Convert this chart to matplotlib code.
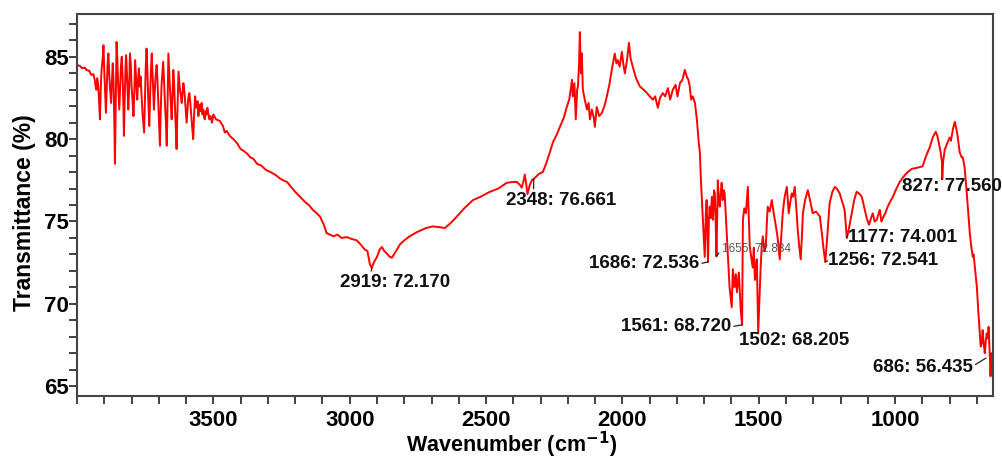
#!/usr/bin/env python3

import matplotlib
matplotlib.use('Agg')
import matplotlib.pyplot as plt
from matplotlib.ticker import MultipleLocator

plt.rcParams['font.family'] = ['Liberation Sans', 'DejaVu Sans']
plt.rcParams['font.weight'] = 'bold'

# FTIR spectrum: (wavenumber cm-1, transmittance %)
spectrum = [
    (4000, 84.5), (3990, 84.45), (3980, 84.3), (3972, 84.35), (3965, 84.2), (3955, 84.15),
    (3948, 83.9), (3940, 83.95),
    (3935, 83.6), (3932, 83.2), (3929, 83.0), (3926, 83.7), (3923, 83.4), (3920, 82.6),
    (3916, 81.2), (3913, 83.1), (3910, 84.2), (3906, 84.9), (3903, 85.7), (3900, 84.1),
    (3897, 82.8), (3894, 81.6), (3891, 83.2), (3888, 84.6), (3885, 85.2), (3882, 84.0),
    (3879, 83.1), (3875, 82.2), (3872, 83.5), (3869, 84.6), (3866, 83.4), (3863, 80.8),
    (3861, 78.5), (3858, 82.4), (3855, 85.9), (3852, 84.8), (3849, 83.2), (3845, 81.8),
    (3842, 83.1), (3839, 84.4), (3836, 85.0), (3833, 83.9), (3830, 82.0), (3828, 80.2),
    (3825, 82.6), (3822, 84.5), (3820, 85.1), (3817, 84.0), (3814, 82.6), (3812, 81.8),
    (3809, 83.0), (3806, 85.2), (3803, 84.6), (3800, 83.2), (3797, 82.5), (3793, 81.4),
    (3790, 82.8), (3787, 84.8), (3784, 83.9), (3781, 82.8), (3779, 82.4), (3776, 83.6),
    (3773, 84.3), (3770, 83.2), (3767, 83.8), (3764, 82.9), (3760, 81.6), (3757, 81.0),
    (3754, 80.4), (3751, 82.5), (3748, 84.4), (3745, 85.5), (3742, 84.2), (3739, 82.5),
    (3735, 80.8), (3732, 82.6), (3729, 84.1), (3726, 85.2), (3723, 84.0), (3720, 82.7),
    (3718, 81.8), (3715, 82.9), (3712, 83.8), (3708, 84.5), (3705, 83.6), (3702, 82.2),
    (3699, 80.9), (3696, 79.6), (3693, 81.8), (3690, 83.3), (3687, 84.0), (3684, 84.7),
    (3681, 83.5), (3678, 82.4), (3674, 81.0), (3671, 79.6), (3668, 82.1), (3665, 85.2),
    (3662, 84.1), (3659, 83.0), (3656, 82.2), (3653, 81.2), (3650, 82.6), (3647, 84.2),
    (3644, 83.4), (3641, 82.0), (3638, 80.8), (3635, 79.4), (3632, 81.6), (3628, 84.1),
    (3625, 83.5), (3622, 82.9), (3619, 82.6), (3616, 82.2), (3613, 82.9), (3610, 83.4),
    (3608, 83.2), (3605, 82.6), (3602, 81.9), (3598, 81.0), (3595, 81.8), (3592, 82.5),
    (3588, 82.8), (3585, 82.3), (3581, 81.4), (3578, 80.8), (3574, 80.0), (3571, 81.3),
    (3567, 82.6), (3564, 82.1), (3561, 81.9), (3558, 82.3), (3555, 81.4), (3552, 81.9),
    (3549, 82.1), (3546, 81.7), (3543, 82.2), (3540, 81.5), (3537, 81.8), (3534, 81.3),
    (3531, 81.2), (3528, 81.7), (3525, 81.5), (3522, 81.9), (3519, 81.6), (3515, 81.2),
    (3510, 81.4), (3505, 81.0), (3500, 81.5),
    (3490, 81.2), (3476, 81.1), (3465, 80.8), (3458, 80.4), (3451, 80.5), (3440, 80.2),
    (3427, 80.0), (3415, 79.8), (3400, 79.4), (3390, 79.3), (3375, 79.1), (3365, 78.9),
    (3353, 78.8), (3340, 78.5), (3325, 78.4), (3305, 78.1), (3290, 78.0), (3270, 77.8),
    (3255, 77.6), (3244, 77.5), (3230, 77.4), (3215, 77.1), (3200, 76.8), (3182, 76.5),
    (3165, 76.2), (3150, 76.0), (3135, 75.7), (3121, 75.5), (3109, 75.3), (3095, 74.8),
    (3085, 74.3), (3073, 74.2), (3060, 74.1), (3045, 74.2), (3030, 74.0), (3011, 74.05),
    (2995, 73.95), (2974, 73.85), (2960, 73.6), (2945, 73.3), (2935, 73.2), (2926, 72.4),
    (2919, 72.17), (2912, 72.5), (2900, 72.85), (2890, 73.3), (2882, 73.45), (2873, 73.2),
    (2864, 73.05), (2853, 72.85), (2845, 72.8), (2830, 73.2), (2816, 73.6), (2800, 73.85),
    (2780, 74.1), (2754, 74.35), (2720, 74.6), (2695, 74.7), (2670, 74.65), (2651, 74.6),
    (2630, 74.9), (2607, 75.3), (2580, 75.8), (2548, 76.3), (2520, 76.5), (2486, 76.8),
    (2455, 77.0), (2424, 77.35), (2400, 77.4), (2387, 77.4), (2375, 77.2), (2369, 77.05),
    (2362, 77.5), (2358, 77.85), (2353, 77.3), (2348, 76.66), (2340, 77.2), (2332, 77.5),
    (2321, 77.65), (2305, 77.9), (2292, 78.0), (2280, 78.5), (2266, 79.2), (2255, 79.8),
    (2240, 80.3), (2229, 80.75), (2215, 81.3), (2204, 81.95), (2195, 82.4), (2188, 83.2),
    (2185, 83.6), (2182, 82.6), (2176, 83.4), (2171, 81.2), (2166, 83.0), (2163, 83.2),
    (2159, 84.5), (2156, 86.5), (2152, 84.0), (2149, 85.2), (2145, 83.0), (2138, 82.4),
    (2130, 81.8), (2124, 82.2), (2119, 81.2), (2112, 81.8), (2105, 81.3), (2101, 80.75),
    (2094, 81.95), (2085, 81.4), (2075, 81.6), (2066, 82.0), (2057, 82.6), (2048, 83.3),
    (2039, 84.2), (2028, 85.2), (2022, 84.6), (2017, 84.8), (2010, 84.4), (2002, 85.3),
    (1996, 84.5), (1991, 84.0), (1983, 84.8), (1976, 85.85), (1970, 84.9), (1962, 84.4),
    (1950, 83.7), (1936, 83.2), (1922, 83.0), (1910, 82.8), (1900, 82.6), (1888, 82.4),
    (1880, 82.6), (1870, 81.9), (1862, 82.5), (1852, 82.8), (1843, 82.6), (1833, 83.1),
    (1825, 82.4), (1815, 83.0), (1805, 83.3), (1798, 82.6), (1789, 83.4), (1780, 83.6),
    (1771, 84.2), (1764, 83.8), (1758, 83.6), (1753, 83.2), (1748, 82.4), (1742, 82.6),
    (1734, 82.2), (1727, 81.2), (1720, 79.8), (1716, 79.2), (1712, 77.5), (1707, 75.8),
    (1702, 74.2), (1698, 72.85), (1694, 75.5), (1691, 76.3), (1686, 72.54), (1683, 75.0),
    (1680, 75.9), (1676, 75.2), (1672, 76.5), (1668, 75.1), (1664, 76.9), (1661, 76.7),
    (1658, 75.0), (1655, 72.88), (1652, 75.8), (1650, 77.5), (1646, 76.2), (1643, 75.9),
    (1638, 77.0), (1636, 77.35), (1632, 76.3), (1628, 76.9), (1625, 76.7), (1619, 74.8),
    (1614, 73.1), (1607, 71.0), (1599, 69.8), (1595, 72.1), (1589, 71.0), (1584, 71.8),
    (1580, 70.7), (1573, 71.9), (1566, 69.6), (1561, 68.72), (1558, 75.1), (1553, 75.8),
    (1547, 75.5), (1540, 77.1), (1536, 75.0), (1533, 73.5), (1527, 72.8), (1522, 72.2),
    (1518, 73.4), (1514, 71.45), (1510, 72.0), (1507, 72.7), (1502, 68.2), (1497, 70.5),
    (1493, 72.2), (1489, 73.5), (1485, 74.1), (1479, 73.2), (1474, 73.5), (1470, 75.0),
    (1467, 75.9), (1460, 75.6), (1452, 76.3), (1446, 75.6), (1441, 75.1), (1435, 74.5),
    (1430, 73.9), (1423, 72.7), (1418, 74.0), (1412, 75.5), (1405, 76.5), (1397, 77.1),
    (1393, 76.2), (1390, 75.5), (1384, 76.2), (1379, 76.7), (1374, 76.5), (1368, 77.1),
    (1362, 75.8), (1357, 74.5), (1351, 73.4), (1346, 72.7), (1342, 74.0), (1338, 75.5),
    (1330, 76.3), (1320, 76.9), (1312, 76.3), (1302, 75.5), (1290, 75.6), (1276, 75.3),
    (1268, 74.2), (1262, 73.3), (1256, 72.54), (1250, 73.8), (1240, 76.1), (1230, 76.8),
    (1221, 77.1), (1214, 77.0), (1203, 76.7), (1194, 76.2), (1185, 75.7), (1177, 74.0),
    (1170, 74.5), (1159, 75.5), (1150, 76.3), (1141, 76.8), (1132, 76.7), (1122, 76.5),
    (1111, 75.7), (1104, 75.2), (1096, 74.8), (1088, 75.2), (1082, 75.5), (1075, 75.0),
    (1067, 75.1), (1060, 75.5), (1056, 75.7), (1050, 75.0), (1045, 75.2), (1036, 75.5),
    (1027, 75.9), (1018, 76.2), (1008, 76.5), (995, 77.0), (983, 77.4), (970, 77.7),
    (954, 78.0), (938, 78.2), (921, 78.25), (910, 78.3), (899, 78.35), (888, 78.9),
    (873, 79.5), (862, 80.1), (851, 80.45), (845, 80.2), (840, 79.8), (833, 79.2),
    (828, 78.6), (827, 77.56), (824, 78.6), (818, 79.35), (810, 79.7), (800, 80.1),
    (795, 79.9), (788, 80.6), (781, 81.05), (775, 80.6), (770, 80.1), (763, 79.2),
    (756, 78.9), (752, 78.9), (745, 78.3), (737, 76.7), (730, 75.2), (726, 74.3),
    (720, 73.4), (715, 72.85), (712, 73.0), (706, 72.0), (700, 71.0), (695, 69.6),
    (690, 68.4), (686, 67.4), (682, 67.6), (679, 68.4), (675, 67.6), (671, 67.0),
    (667, 67.8), (664, 68.2), (660, 67.9), (657, 68.6), (653, 67.0), (650, 65.6),
    (646, 67.0), (642, 66.6),
]
wavenumber = [p[0] for p in spectrum]
transmittance = [p[1] for p in spectrum]

# peak labels: text, point the leader goes to, where the text starts (left, middle)
peak_labels = ["2919: 72.170", "2348: 76.661", "1686: 72.536", "1655: 72.884",
               "1561: 68.720", "1502: 68.205", "1256: 72.541", "1177: 74.001",
               "827: 77.560", "686: 56.435"]
peak_xy = [(2919, 72.17), (2325, 77.6), (1686, 72.54), (1655, 72.88),
           (1561, 68.72), (1502, 68.2), (1256, 72.54), (1177, 74.0),
           (827, 77.56), (667, 66.7)]
label_xy = [(3036, 71.3), (2427, 76.3), (2123, 72.42), (1636, 73.33),
            (2006, 68.6), (1573, 67.75), (1247, 72.61), (1174, 74.0),
            (976, 77.1), (1082, 66.1)]
# which point of the text box the leader starts from
leader_from = [(0.28, 1), (0.25, 1), (1, 0.5), (0, 0.5), (1, 0.5),
               (0.15, 1), (0, 0.5), (0, 0.7), (0.4, 1), (1, 0.6)]

fig = plt.figure(figsize=(10.03, 4.62), dpi=100)
ax = fig.add_axes([0.0768, 0.1429, 0.9132, 0.8268])

ax.plot(wavenumber, transmittance, color='#ff0000', lw=1.4)

ax.set_xlim(4000, 641)
ax.set_ylim(64.4, 87.6)
ax.xaxis.set_major_locator(MultipleLocator(500))
ax.xaxis.set_minor_locator(MultipleLocator(100))
ax.yaxis.set_major_locator(MultipleLocator(5))
ax.yaxis.set_minor_locator(MultipleLocator(1))
ax.tick_params(which='both', direction='out', length=6, width=1.3, color='#333333')
ax.tick_params(axis='x', which='major', labelsize=16, pad=4)
ax.tick_params(axis='y', which='major', labelsize=16, pad=0)
for sp in ax.spines.values():
    sp.set_linewidth(1.5)
    sp.set_color('#444444')

# no label at 4000
ax.set_xticks([3500, 3000, 2500, 2000, 1500, 1000])

ax.set_xlabel('Wavenumber (cm$^{\\mathbf{-1}}$)', fontsize=15.5, fontweight='bold')
ax.xaxis.set_label_coords(0.474, -0.088)
ax.set_ylabel('Transmittance (%)', fontsize=16.5, fontweight='bold')
ax.yaxis.set_label_coords(-0.045, 0.48)

for i, txt in enumerate(peak_labels):
    small = txt.startswith('1655')
    ax.annotate(txt, xy=peak_xy[i], xytext=label_xy[i], textcoords='data',
                ha='left', va='center',
                fontsize=8.5 if small else 13.5,
                fontweight='normal' if small else 'bold',
                color='#555555' if small else '#111111',
                annotation_clip=False,
                arrowprops=dict(arrowstyle='-', lw=0.9, color='#222222',
                                shrinkA=0, shrinkB=0, relpos=leader_from[i]))

fig.savefig('out.png', dpi=100)
